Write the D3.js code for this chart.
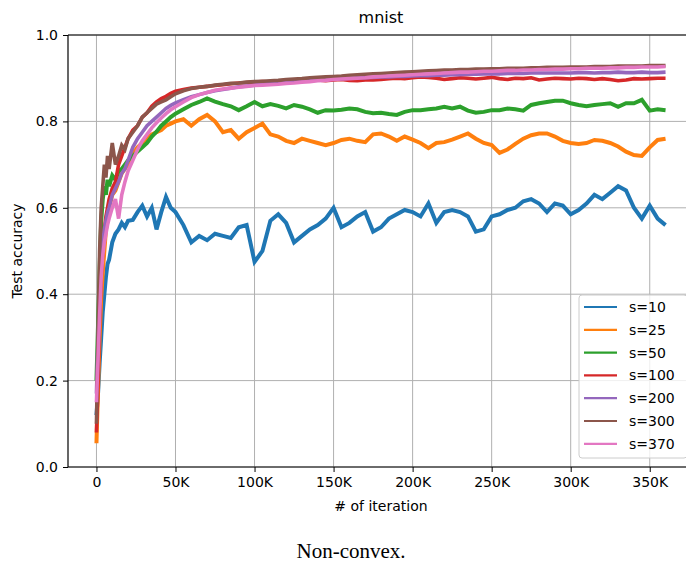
<!DOCTYPE html>
<html><head><meta charset="utf-8">
<script src="https://cdn.jsdelivr.net/npm/d3@7"></script>
<style>body{margin:0;background:#fff;} svg{display:block;}</style>
</head><body>
<svg id="chart" width="686" height="563"></svg>
<script>
// iterations in thousands
const iters = [0,1,2,3,4,5,6,7,8,10,12,14,16,18,20,23,26,29,32,35,38,41,44,47,50,
 55,60,65,70,75,80,85,90,95,100,105,110,115,120,125,130,135,140,145,150,155,160,165,170,175,
 180,185,190,195,200,205,210,215,220,225,230,235,240,245,250,255,260,265,270,275,
 280,285,290,295,300,305,310,315,320,325,330,335,340,345,350,355,360];

const s10 = [0.12,0.17,0.24,0.30,0.36,0.40,0.44,0.47,0.48,0.52,0.54,0.55,0.565,0.555,0.57,0.572,0.59,0.605,0.58,0.60,0.55,0.59,0.625,0.60,0.59,
 0.56,0.52,0.535,0.525,0.54,0.535,0.53,0.555,0.56,0.475,0.50,0.57,0.585,0.565,0.52,0.535,0.55,0.56,0.575,0.60,0.555,0.565,0.58,0.59,0.545,
 0.555,0.575,0.585,0.595,0.59,0.58,0.61,0.565,0.59,0.595,0.59,0.58,0.545,0.55,0.58,0.585,0.595,0.60,0.615,0.62,
 0.61,0.59,0.61,0.605,0.585,0.595,0.61,0.63,0.62,0.635,0.65,0.64,0.60,0.575,0.605,0.575,0.56];

const s25 = [0.055,0.18,0.30,0.39,0.45,0.50,0.55,0.57,0.60,0.63,0.64,0.66,0.68,0.69,0.70,0.725,0.74,0.75,0.76,0.77,0.775,0.78,0.79,0.795,0.80,
 0.805,0.79,0.805,0.815,0.80,0.775,0.78,0.76,0.775,0.785,0.795,0.77,0.765,0.755,0.75,0.76,0.755,0.75,0.745,0.75,0.757,0.76,0.755,0.752,0.77,
 0.772,0.765,0.755,0.765,0.758,0.75,0.738,0.75,0.752,0.758,0.765,0.772,0.76,0.75,0.745,0.727,0.735,0.748,0.76,0.768,
 0.772,0.772,0.765,0.755,0.75,0.748,0.75,0.757,0.755,0.75,0.742,0.73,0.722,0.72,0.74,0.757,0.76];

const s50 = [0.20,0.33,0.46,0.57,0.62,0.65,0.63,0.665,0.65,0.675,0.665,0.685,0.69,0.70,0.71,0.72,0.73,0.74,0.75,0.765,0.776,0.79,0.80,0.81,0.818,
 0.828,0.838,0.845,0.853,0.846,0.84,0.835,0.826,0.835,0.845,0.835,0.84,0.836,0.83,0.838,0.834,0.828,0.82,0.826,0.825,0.827,0.83,0.828,0.822,0.819,
 0.82,0.817,0.815,0.822,0.826,0.826,0.828,0.83,0.834,0.83,0.834,0.825,0.82,0.822,0.826,0.826,0.83,0.828,0.825,0.838,
 0.842,0.845,0.848,0.848,0.842,0.838,0.835,0.838,0.84,0.842,0.834,0.842,0.842,0.85,0.825,0.828,0.826];

const s100 = [0.08,0.20,0.34,0.44,0.50,0.55,0.58,0.60,0.62,0.645,0.66,0.70,0.72,0.74,0.76,0.78,0.79,0.81,0.82,0.835,0.845,0.853,0.858,0.865,0.87,
 0.874,0.877,0.879,0.881,0.883,0.885,0.887,0.889,0.89,0.891,0.892,0.891,0.893,0.892,0.894,0.893,0.895,0.896,0.894,0.896,0.897,0.895,0.894,0.896,0.896,
 0.897,0.899,0.90,0.899,0.901,0.903,0.902,0.90,0.897,0.899,0.901,0.90,0.898,0.90,0.902,0.899,0.897,0.90,0.899,0.901,
 0.896,0.898,0.90,0.899,0.898,0.90,0.899,0.897,0.899,0.897,0.894,0.896,0.899,0.898,0.899,0.90,0.90];

const s200 = [0.17,0.30,0.40,0.47,0.52,0.55,0.57,0.59,0.60,0.63,0.645,0.66,0.68,0.69,0.71,0.74,0.76,0.775,0.79,0.80,0.81,0.82,0.83,0.837,0.843,
 0.85,0.857,0.862,0.867,0.871,0.874,0.877,0.88,0.882,0.884,0.886,0.888,0.889,0.891,0.892,0.894,0.895,0.896,0.897,0.898,0.899,0.90,0.901,0.901,0.902,
 0.903,0.903,0.904,0.904,0.905,0.906,0.906,0.907,0.907,0.908,0.908,0.909,0.909,0.91,0.91,0.91,0.911,0.911,0.911,0.912,
 0.912,0.912,0.912,0.912,0.912,0.913,0.913,0.912,0.913,0.913,0.914,0.913,0.913,0.914,0.913,0.913,0.914];

const s300 = [0.10,0.30,0.50,0.60,0.65,0.70,0.67,0.72,0.69,0.75,0.70,0.72,0.745,0.735,0.76,0.775,0.79,0.81,0.82,0.83,0.84,0.845,0.85,0.857,0.864,
 0.871,0.876,0.879,0.881,0.884,0.886,0.888,0.889,0.891,0.892,0.893,0.894,0.895,0.897,0.898,0.899,0.901,0.902,0.903,0.904,0.905,0.907,0.908,0.909,0.91,
 0.911,0.912,0.913,0.914,0.915,0.916,0.917,0.918,0.919,0.919,0.92,0.92,0.921,0.921,0.922,0.922,0.923,0.923,0.923,0.924,
 0.924,0.925,0.925,0.925,0.926,0.926,0.926,0.927,0.927,0.927,0.928,0.928,0.928,0.928,0.929,0.929,0.929];

const s370 = [0.15,0.25,0.35,0.44,0.49,0.52,0.54,0.56,0.575,0.60,0.62,0.575,0.63,0.66,0.685,0.71,0.735,0.755,0.77,0.785,0.797,0.808,0.818,0.827,0.834,
 0.845,0.855,0.862,0.867,0.872,0.875,0.877,0.879,0.881,0.883,0.884,0.885,0.886,0.888,0.889,0.891,0.892,0.894,0.895,0.897,0.898,0.899,0.90,0.901,0.903,
 0.904,0.905,0.906,0.907,0.908,0.909,0.91,0.911,0.912,0.913,0.914,0.914,0.915,0.916,0.916,0.917,0.918,0.918,0.919,0.919,
 0.92,0.92,0.921,0.921,0.922,0.922,0.923,0.923,0.923,0.924,0.924,0.925,0.925,0.926,0.926,0.926,0.927];

const seriesNames = ["s=10","s=25","s=50","s=100","s=200","s=300","s=370"];
const seriesValues = [s10,s25,s50,s100,s200,s300,s370];
const colors = ["#1f77b4","#ff7f0e","#2ca02c","#d62728","#9467bd","#8c564b","#e377c2"];
const xTicks = [0,50,100,150,200,250,300,350];
const xTickLabels = ["0","50K","100K","150K","200K","250K","300K","350K"];
const yTicks = [0,0.2,0.4,0.6,0.8,1.0];
const yTickLabels = ["0.0","0.2","0.4","0.6","0.8","1.0"];

const svg = d3.select("#chart");
const L = 68, R = 694, T = 35, B = 467;
const x = d3.scaleLinear().domain([-18, 378]).range([L, R]);
const y = d3.scaleLinear().domain([0, 1]).range([B, T]);
const font = "DejaVu Sans, sans-serif";

const clipId = "plotclip";
svg.append("clipPath").attr("id", clipId).append("rect")
  .attr("x", L).attr("y", T).attr("width", R - L).attr("height", B - T);

// grid
const g = svg.append("g");
g.selectAll(".gx").data(xTicks).join("line")
  .attr("x1", d => x(d)).attr("x2", d => x(d)).attr("y1", T).attr("y2", B)
  .attr("stroke", "#b0b0b0").attr("stroke-width", 1);
g.selectAll(".gy").data(yTicks).join("line")
  .attr("x1", L).attr("x2", R).attr("y1", d => y(d)).attr("y2", d => y(d))
  .attr("stroke", "#b0b0b0").attr("stroke-width", 1);

// lines
const line = d3.line().x((d, i) => x(iters[i])).y(d => y(d));
const lg = svg.append("g").attr("clip-path", `url(#${clipId})`);
seriesValues.forEach((vals, k) => {
  lg.append("path").datum(vals).attr("d", line)
    .attr("fill", "none").attr("stroke", colors[k])
    .attr("stroke-width", k < 3 ? 4 : 3.6)
    .attr("stroke-linejoin", "miter").attr("stroke-miterlimit", 3).attr("stroke-linecap", "butt");
});

// axes
const xAxis = d3.axisBottom(x).tickValues(xTicks).tickFormat((d, i) => xTickLabels[i]).tickSize(5).tickPadding(5);
const yAxis = d3.axisLeft(y).tickValues(yTicks).tickFormat((d, i) => yTickLabels[i]).tickSize(5).tickPadding(5);
const xg = svg.append("g").attr("transform", `translate(0,${B})`).call(xAxis);
const yg = svg.append("g").attr("transform", `translate(${L},0)`).call(yAxis);
[xg, yg].forEach(a => {
  a.select(".domain").remove();
  a.selectAll("text").attr("font-family", font).attr("font-size", 14).attr("fill", "#000");
  a.selectAll("line").attr("stroke", "#000");
});
// spines
svg.append("line").attr("x1", L).attr("x2", L).attr("y1", T).attr("y2", B).attr("stroke", "#000").attr("stroke-width", 1.2);
svg.append("line").attr("x1", L).attr("x2", R).attr("y1", B).attr("y2", B).attr("stroke", "#000").attr("stroke-width", 1.2);
svg.append("line").attr("x1", L).attr("x2", R).attr("y1", T).attr("y2", T).attr("stroke", "#000").attr("stroke-width", 1.2);
svg.append("line").attr("x1", R).attr("x2", R).attr("y1", T).attr("y2", B).attr("stroke", "#000").attr("stroke-width", 1.2);

// labels
svg.append("text").attr("x", (L + R) / 2).attr("y", 23).attr("text-anchor", "middle")
  .attr("font-family", font).attr("font-size", 16).text("mnist");
svg.append("text").attr("x", (L + R) / 2).attr("y", 511).attr("text-anchor", "middle")
  .attr("font-family", font).attr("font-size", 14).text("# of iteration");
svg.append("text").attr("transform", `translate(22,${(T + B) / 2}) rotate(-90)`).attr("text-anchor", "middle")
  .attr("font-family", font).attr("font-size", 14).text("Test accuracy");
svg.append("text").attr("x", 351).attr("y", 558).attr("text-anchor", "middle")
  .attr("font-family", "Liberation Serif, Times New Roman, serif").attr("font-size", 21).text("Non-convex.");

// legend
const lgX = 579, lgY = 295, lgW = 108, lgH = 163, rowH = 22.8;
const leg = svg.append("g");
leg.append("rect").attr("x", lgX).attr("y", lgY).attr("width", lgW).attr("height", lgH)
  .attr("rx", 3).attr("fill", "#fff").attr("fill-opacity", 0.8).attr("stroke", "#cccccc");
seriesNames.forEach((n, k) => {
  const cy = 307 + k * rowH;
  leg.append("line").attr("x1", 584).attr("x2", 617).attr("y1", cy).attr("y2", cy)
    .attr("stroke", colors[k]).attr("stroke-width", 2.2);
  leg.append("text").attr("x", 629).attr("y", cy + 5).attr("font-family", font).attr("font-size", 14).text(n);
});
</script>
</body></html>
